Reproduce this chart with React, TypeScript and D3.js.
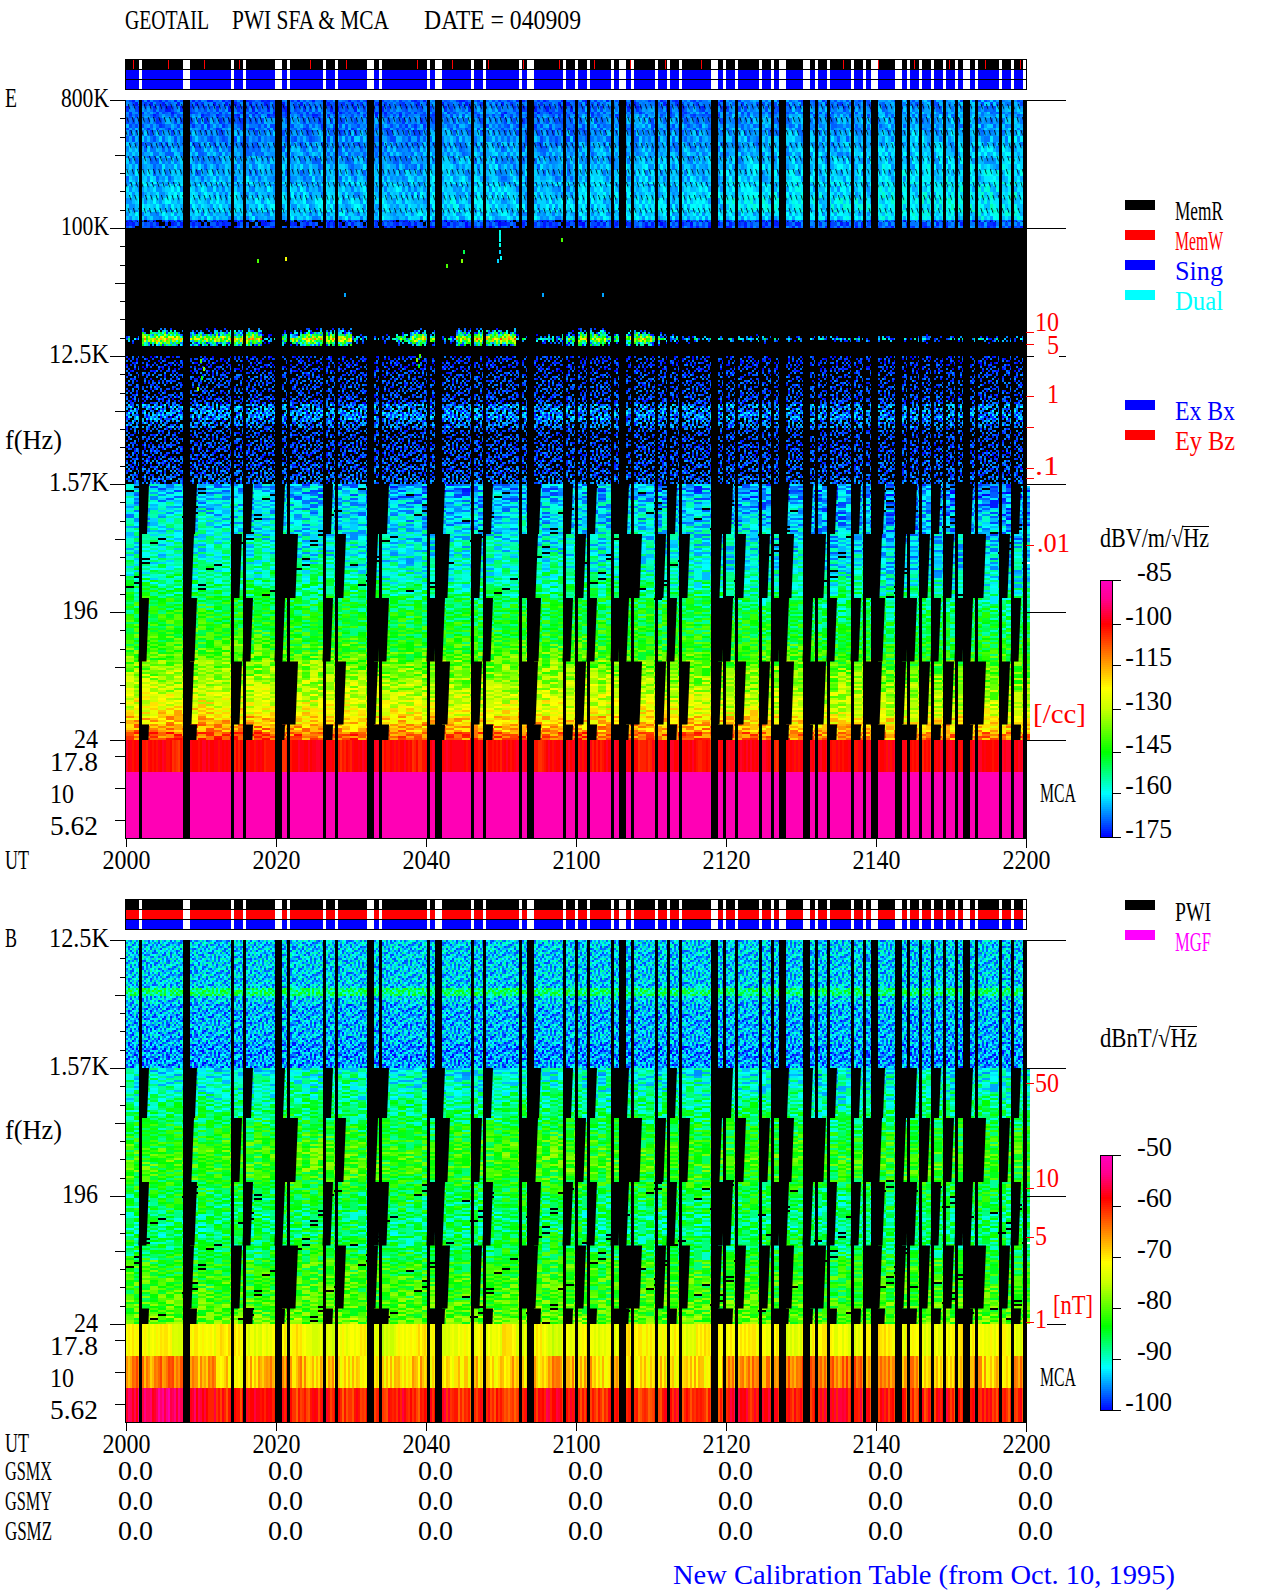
import { useEffect, useRef } from 'react';
import * as d3 from 'd3';

// data gaps, minutes after 2000 UT
const gapStart = [1.73, 7.6, 14, 15.6, 19.87, 21.47, 26.27, 27.87, 32.13, 33.73, 40.13, 41.2, 46, 47.6, 52.4, 53.47, 58.27, 59.87, 61.47, 64.67, 65.73, 67.33, 70.53, 72.13, 73.73, 78, 79.6, 81.2, 84.4, 86, 87.07, 90.27, 91.87, 93.47, 96.67, 98.27, 99.33, 102.53, 104.13, 105.73, 107.33, 108.93, 110.53, 111.6, 113.2, 116.4, 118, 119.6];
const gapEnd = [2.13, 8.53, 14.4, 16, 20.8, 21.87, 26.67, 28.27, 33.07, 34.13, 40.53, 42.13, 46.4, 48, 52.8, 54.4, 58.67, 60.27, 61.87, 65.07, 66.67, 67.73, 70.93, 72.53, 74.13, 78.93, 80, 81.6, 84.8, 86.4, 88, 91.2, 92.27, 93.87, 97.07, 98.67, 100.27, 103.47, 104.53, 106.13, 107.73, 109.33, 110.93, 112.53, 113.6, 116.8, 118.4, 120];
const memWrite = [0.97, 5.64, 10.44, 15.11, 24.57, 29.37, 38.84, 43.5, 48.3, 52.97, 57.77, 62.44, 67.24, 71.91, 76.71, 95.57, 100.24, 105.04, 109.71, 114.51, 119.17];

const timeTicks = [0, 20, 40, 60, 80, 100, 120];
const timeLabels = ['2000', '2020', '2040', '2100', '2120', '2140', '2200'];

// frequency axis stops, Hz
const eFreqs = [800000, 100000, 12500, 1570, 196, 24, 17.8, 10, 5.62, 4.05];
const bFreqs = [12500, 1570, 196, 24, 17.8, 10, 5.62, 4.05];
const sfaEdges = [1570, 697, 246, 87, 31, 24];
const mcaEdges = [24, 13.3, 7.5, 4.05];

// mean levels per 8px row, dB
const eTopDb = [-170, -169, -168, -168, -167, -167, -166, -166, -165, -165, -164, -164, -163, -163, -164, -172];
const eMidDb = [-178, -178, -177, -177, -177, -176, -170, -169, -172, -177, -177, -176, -176, -175, -175, -174];
const eLowDb = [-165, -164, -163, -162, -162, -161, -160, -159, -159, -158, -157, -156, -154, -152, -150, -149, -148, -147, -146, -145, -143, -141, -138, -136, -134, -132, -130, -128, -125, -120, -116, -110];
const bTopDb = [-93, -93, -93, -93, -93, -93, -87, -93, -94, -94, -94, -94, -94, -95, -95, -95];
const bLowDb = [-91, -90, -90, -89, -88, -87, -86, -85, -84, -83, -82, -82, -82, -83, -84, -85, -86, -86, -87, -87, -87, -86, -86, -85, -83, -83, -82, -82, -82, -81, -81, -80];

// slow drift per 10 minutes, dB
const eTopDrift = [0, 0, 0, 0, 1, 0, 1, 1, 2, 2, 3, 3];
const eLowDrift = [2, 2, 1, 0, 0, 1, 1, 0, -1, -2, -3, -3];
const bLowDrift = [0, 0, 1, 0, 0, 1, 0, 0, 0, -1, 0, 0];

// the emission line near 17 kHz, per 2 minutes, dB
const lineDb = [-168, -128, -122, -130, -135, -132, -130, -126, -124, -165, -145, -135, -125, -128, -125, -162, -170, -168, -150, -128, -138, -165, -128, -125, -124, -122, -165, -165, -162, -145, -128, -130, -150, -132, -130, -155, -165, -168, -170, -168, -170, -172, -168, -170, -172, -170, -168, -172, -170, -170, -168, -172, -170, -168, -170, -172, -170, -168, -170, -170];

// MCA channels per 2 minutes, dB
const eMca0 = [-100, -101, -100, -104, -100, -99, -100, -103, -100, -101, -104, -100, -99, -100, -102, -100, -99, -101, -100, -103, -100, -99, -100, -100, -102, -100, -99, -103, -100, -99, -100, -102, -99, -100, -103, -100, -99, -100, -102, -100, -99, -100, -99, -103, -100, -99, -99, -101, -100, -99, -100, -99, -100, -102, -99, -100, -99, -100, -99, -99];
const eMca1 = [-87];
const bMca0 = [-71, -72, -70, -73, -71, -72, -70, -71, -73, -72, -71, -70, -73, -74, -72, -71, -73, -74, -72, -70, -71, -73, -72, -71, -72, -70, -73, -71, -74, -72, -71, -73, -72, -70, -71, -72, -71, -73, -70, -72, -71, -70, -72, -71, -73, -71, -70, -72, -73, -71, -70, -72, -71, -73, -72, -70, -71, -72, -71, -73];
const bMca1 = [-65, -66, -64, -65, -67, -66, -69, -70, -69, -66, -65, -67, -69, -68, -70, -69, -71, -70, -69, -68, -70, -71, -70, -69, -70, -68, -70, -69, -66, -67, -68, -70, -69, -68, -70, -69, -71, -69, -70, -68, -66, -65, -66, -67, -65, -64, -66, -65, -64, -66, -65, -67, -66, -68, -69, -68, -66, -69, -68, -66];
const bMca2 = [-56, -55, -54, -55, -57, -58, -60, -60, -59, -58, -60, -61, -60, -59, -61, -60, -61, -60, -59, -61, -60, -59, -61, -60, -60, -61, -59, -60, -58, -59, -60, -61, -60, -59, -61, -60, -59, -60, -61, -60, -58, -59, -58, -59, -60, -59, -58, -58, -59, -60, -59, -60, -61, -60, -59, -60, -59, -60, -61, -60];

// isolated bright points in the dark band: minute, Hz, dB
const speckMinute = [49.7, 49.7, 49.7, 49.7, 49.7, 49.7, 49.9, 49.5, 44.6, 44.9, 21.2, 17.4, 42.7, 9.8, 10.2, 10, 9.4, 38.6, 38.9, 39.1, 58, 63.5, 55.5, 29, 87];
const speckFreq = [97000, 93000, 89000, 85000, 78000, 70000, 64000, 60000, 60000, 70000, 62000, 60000, 56000, 12000, 10500, 9000, 7600, 12200, 11000, 13000, 85000, 35000, 35000, 35000, 36000];
const speckDb = [-158, -160, -158, -160, -158, -162, -160, -162, -135, -150, -125, -140, -140, -140, -135, -145, -135, -135, -145, -140, -140, -165, -165, -165, -165];

// density and field scales on the right edge
const eDensity = [10, 5, 1, 0.5, 0.1, 0.07, 0.01];
const bField = [50, 10, 5, 1];

// Texture only: a hand-typed noise sample repeated across each band to give the
// speckle. It is not a per-pixel reading of the picture. '#' is a dropped cell.
const textureTile = [
  '731952840627184905362718',
  '264817#90524761038492516',
  '958036247183950462718394',
  '402769518340627#95836047',
  '617384025961483702594183',
  '8405927631085296740#3867',
  '375160948275036918427592',
  '92674#013596182407365021',
  '183527496073845162970438',
  '569401872634#07358124706',
  '714293685021763840596231',
  '0386751298472105967#3154',
  '492816057368491273605879',
  '6507#4291085326947018362',
  '287159643702658#13492745',
  '341068725916074589261903',
];

const SERIF = '"Liberation Serif", serif';
const colorT = d3
  .scaleLinear<string>()
  .domain([0, 0.17, 0.33, 0.5, 0.58, 0.67, 0.83, 0.93, 1])
  .range(['#0000ff', '#00ffff', '#00ff00', '#c8ff00', '#ffff00', '#ffa500', '#ff0000', '#ff0090', '#ff00c0'])
  .clamp(true);

const mod = (a: number, n: number) => ((a % n) + n) % n;

const texture = (row: number, col: number, shear: number, hold = 1) => {
  const r = mod(Math.floor(row / hold) + 5 * Math.floor(col / 24) + 3 * Math.floor(col / 7), 16);
  const c = mod(col + Math.floor(shear * row), 24);
  const ch = textureTile[r][c];
  return ch === '#' ? NaN : (+ch - 4.5) / 4.5;
};

type Cells = Map<string, string>;

const addCell = (cells: Cells, x: number, y: number, w: number, h: number, t: number) => {
  const color = colorT(Math.round(t * 64) / 64);
  const prev = cells.get(color) || '';
  cells.set(color, `${prev}M${x.toFixed(1)} ${y.toFixed(1)}h${w.toFixed(1)}v${h}h${(-w).toFixed(1)}z`);
};

const xScale = d3.scaleLinear().domain([0, 120]).range([126, 1026]);
const minutesOf = (step: number) => d3.range(0, 120, step);
const inGap = (m: number) => gapStart.some((s, i) => m >= s && m < gapEnd[i]);

const App = () => {
  const svgRef = useRef<SVGSVGElement>(null);

  useEffect(() => {
    const svg = d3.select(svgRef.current);
    svg.selectAll('*').remove();

    const label = (text: string, x: number, y: number, fill = '#000', w = text.length * 12, size = 27) =>
      svg
        .append('text')
        .attr('x', x)
        .attr('y', y)
        .attr('font-family', SERIF)
        .attr('font-size', size)
        .attr('fill', fill)
        .attr('textLength', w)
        .attr('lengthAdjust', 'spacingAndGlyphs')
        .text(text);

    const rule = (x1: number, x2: number, y1: number, y2: number, stroke = '#000') =>
      svg
        .append('line')
        .attr('x1', x1)
        .attr('x2', x2)
        .attr('y1', y1)
        .attr('y2', y2)
        .attr('stroke', stroke)
        .attr('shape-rendering', 'crispEdges');

    const bar = (x: number, y: number, w: number, h: number, fill: string) =>
      svg
        .append('rect')
        .attr('x', x)
        .attr('y', y)
        .attr('width', w)
        .attr('height', h)
        .attr('fill', fill)
        .attr('shape-rendering', 'crispEdges');

    // a band of rows, one level per 8px row, broken up by the texture sample
    const paintBand = (
      cells: Cells,
      toT: d3.ScaleLinear<number, number>,
      yTop: number,
      yBot: number,
      levels: number[],
      drift: number[] | null,
      o: { colPx: number; rowPx: number; amp: number; shear?: number; hold?: number; dropFrom?: number; dropTo?: number },
    ) => {
      const bandY = d3.scaleBand<number>().domain(d3.range(levels.length)).range([yTop, yBot]);
      levels.forEach((db, li) => {
        d3.range(0, bandY.bandwidth(), o.rowPx).forEach((off) => {
          const y = (bandY(li) as number) + off;
          const row = Math.round((y - yTop) / o.rowPx);
          minutesOf(o.colPx / 7.5).forEach((m, col) => {
            let dev = texture(row, col, o.shear || 0, o.hold || 1);
            if (Number.isNaN(dev)) {
              if (o.dropFrom !== undefined && y >= o.dropFrom && y < (o.dropTo as number)) return;
              dev = 0;
            }
            const v = db + (drift ? drift[Math.floor(m / 10)] : 0) + dev * o.amp;
            const t = toT(v);
            if (t < 0) return;
            addCell(cells, xScale(m), y, o.colPx, o.rowPx, t);
          });
        });
      });
    };

    const paintMca = (
      cells: Cells,
      toT: d3.ScaleLinear<number, number>,
      yTop: number,
      yBot: number,
      series: number[],
      amp: number,
      seed: number,
    ) => {
      minutesOf(2 / 7.5).forEach((m, col) => {
        const base = series[Math.min(series.length - 1, Math.floor(m / 2))];
        const dev = texture(seed, col, 0) || 0;
        addCell(cells, xScale(m), yTop, 2, yBot - yTop, toT(base + dev * amp));
      });
    };

    const flush = (cells: Cells) => {
      cells.forEach((d, color) => {
        svg.append('path').attr('d', d).attr('fill', color).attr('shape-rendering', 'crispEdges');
      });
    };

    const drawGaps = (yTop: number, yBot: number, yScale: d3.ScaleLogarithmic<number, number>, clipId: string) => {
      gapStart.forEach((s, i) => bar(xScale(s), yTop, xScale(gapEnd[i]) - xScale(s), yBot - yTop, '#000'));
      // the slow low-frequency sweeps lose a whole step when their sample falls in a gap
      const step = 1.0667;
      sfaEdges.slice(0, -1).forEach((fHi, seg) => {
        const top = yScale(fHi);
        const bot = yScale(sfaEdges[seg + 1]);
        const drift = (bot - top) * 0.04;
        const phase = seg % 2 === 0 ? 2.0 : 1.6;
        d3.range(0, 113).forEach((k) => {
          const start = phase + k * step;
          if (!inGap(start - 0.067)) return;
          const xL = xScale(start);
          const xR = xScale(start + step);
          svg
            .append('path')
            .attr('d', `M${xL} ${top}L${xR} ${top}L${xR - drift} ${bot}L${xL - drift} ${bot}Z`)
            .attr('fill', '#000')
            .attr('clip-path', `url(#${clipId})`);
        });
      });
    };

    const drawFreqAxis = (
      yScale: d3.ScaleLogarithmic<number, number>,
      majors: number[],
      names: string[],
      mcaNames: string[],
      longRight: number[],
    ) => {
      majors.forEach((f, i) => {
        rule(110, 126, yScale(f) + 0.5, yScale(f) + 0.5);
        label(names[i], 109 - names[i].length * 12 + (f < 1000 ? -11 : 0), yScale(f) + (f === 24 ? 8 : 7));
        if (i < majors.length - 1) {
          d3.range(1, 7).forEach((k) => {
            const f2 = f * Math.pow(majors[i + 1] / f, k / 7);
            rule(k === 3 ? 115 : 120, 126, yScale(f2) + 0.5, yScale(f2) + 0.5);
          });
        }
      });
      [17.8, 10, 5.62].forEach((f, i) => {
        rule(115, 126, yScale(f) + 0.5, yScale(f) + 0.5);
        label(mcaNames[i], 50, yScale(f) + 15, '#000', mcaNames[i].length * 12);
      });
      longRight.forEach((f) => rule(1026, 1066, yScale(f) + 0.5, yScale(f) + 0.5));
    };

    const drawTimeAxis = (y: number, tickLen: number) => {
      const axis = d3
        .axisBottom(xScale)
        .tickValues(timeTicks)
        .tickSize(tickLen)
        .tickFormat((_d, i) => timeLabels[i]);
      const g = svg.append('g').attr('transform', `translate(0,${y})`).call(axis);
      g.select('.domain').remove();
      g.selectAll('.tick line').attr('stroke', '#000').attr('shape-rendering', 'crispEdges');
      g.selectAll('.tick text')
        .attr('y', 31)
        .attr('dy', 0)
        .attr('fill', '#000')
        .attr('font-family', SERIF)
        .attr('font-size', 27)
        .attr('textLength', 48)
        .attr('lengthAdjust', 'spacingAndGlyphs');
    };

    const drawColorBar = (yTop: number, yBot: number, ticks: number[], names: string[]) => {
      const n = 128;
      const yT = d3.scaleLinear().domain([0, 1]).range([yBot, yTop]);
      d3.range(n).forEach((i) => {
        bar(1100, yT((i + 1) / n), 12, yT(i / n) - yT((i + 1) / n) + 0.5, colorT((i + 0.5) / n));
      });
      svg
        .append('rect')
        .attr('x', 1100.5)
        .attr('y', yTop + 0.5)
        .attr('width', 11.5)
        .attr('height', yBot - yTop)
        .attr('fill', 'none')
        .attr('stroke', '#000')
        .attr('shape-rendering', 'crispEdges');
      ticks.forEach((t, i) => {
        rule(1112, 1121, yT(t) + 0.5, yT(t) + 0.5);
        label(names[i], 1172 - names[i].length * 11.7, yT(t) + 1, '#000', names[i].length * 11.7);
      });
    };

    const drawStatus = (yTop: number, colors: string[]) => {
      colors.forEach((c, i) => bar(126, yTop + i * 10, 900, 10, c));
      gapStart.forEach((s, i) => bar(xScale(s), yTop, xScale(gapEnd[i]) - xScale(s), 30, '#fff'));
      rule(125, 1026, yTop + 10.5, yTop + 10.5);
      rule(125, 1026, yTop + 20.5, yTop + 20.5);
      svg
        .append('rect')
        .attr('x', 125.5)
        .attr('y', yTop + 0.5)
        .attr('width', 901)
        .attr('height', 30)
        .attr('fill', 'none')
        .attr('stroke', '#000')
        .attr('shape-rendering', 'crispEdges');
    };

    svg.append('defs').html(
      `<clipPath id="clipE"><rect x="126" y="100" width="900" height="738"/></clipPath>
       <clipPath id="clipB"><rect x="126" y="940" width="900" height="482"/></clipPath>
       <pattern id="dash" width="5.33" height="13" patternUnits="userSpaceOnUse" patternTransform="skewX(17)">
         <rect width="1" height="5" fill="#000" fill-opacity="0.8"/></pattern>`,
    );

    // ---- titles
    label('GEOTAIL', 125, 29, '#000', 84);
    label('PWI SFA & MCA', 232, 29, '#000', 157);
    label('DATE = 040909', 424, 29, '#000', 157);

    // ---- E panel
    const yE = d3.scaleLog().domain(eFreqs).range([100, 228, 356, 484, 612, 740, 756, 788, 820, 838]);
    const yB = d3.scaleLog().domain(bFreqs).range([940, 1068, 1196, 1324, 1340, 1372, 1404, 1422]);
    const tE = d3.scaleLinear().domain([-175, -85]).range([0, 1]);
    const tB = d3.scaleLinear().domain([-100, -50]).range([0, 1]);

    drawStatus(59, ['#000', '#0000ff', '#0000ff']);
    memWrite.forEach((m) => rule(xScale(m) + 0.5, xScale(m) + 0.5, 60, 69, '#ff0000'));
    bar(126, 100, 900, 738, '#000');

    const eCells: Cells = new Map();
    paintBand(eCells, tE, yE(800000), yE(100000), eTopDb, eTopDrift, { colPx: 3, rowPx: 2, amp: 4, shear: -0.35, hold: 7 });
    paintBand(eCells, tE, yE(12500), yE(1570), eMidDb, null, { colPx: 2, rowPx: 2, amp: 10 });
    paintBand(eCells, tE, yE(1570), yE(24), eLowDb, eLowDrift, { colPx: 8, rowPx: 2, amp: 8, shear: 5, dropFrom: 484, dropTo: 600 });
    paintMca(eCells, tE, yE(mcaEdges[0]), yE(mcaEdges[1]), eMca0, 2, 2);
    paintMca(eCells, tE, yE(mcaEdges[1]), yE(mcaEdges[3]), eMca1, 0, 4);

    // emission line: each cell falls off with distance from the line centre
    const lineY = 338;
    d3.range(-12, 8, 2).forEach((dy) => {
      minutesOf(2 / 7.5).forEach((m, col) => {
        const db = lineDb[Math.floor(m / 2)];
        const dev = texture(dy + 12, col, 3) || 0;
        const t = tE(db - Math.abs(dy) * 6 + dev * 18);
        if (t >= 0) addCell(eCells, xScale(m), lineY + dy, 2, 2, t);
      });
    });
    speckMinute.forEach((m, i) => addCell(eCells, xScale(m), yE(speckFreq[i]), 2, 4, tE(speckDb[i])));
    flush(eCells);
    bar(126, 100, 900, 122, 'url(#dash)');

    drawGaps(100, 838, yE, 'clipE');
    drawFreqAxis(
      yE,
      [800000, 100000, 12500, 1570, 196, 24],
      ['800K', '100K', '12.5K', '1.57K', '196', '24'],
      ['17.8', '10', '5.62'],
      [800000, 100000, 1570, 196, 24],
    );
    rule(1026, 1034, 356.5, 356.5);
    rule(1059, 1066, 356.5, 356.5);
    rule(125.5, 125.5, 100, 838);
    rule(1026.5, 1026.5, 100, 848);
    rule(125, 1026, 838.5, 838.5);
    drawTimeAxis(838, 9);

    label('E', 5, 107);
    label('f(Hz)', 5, 449, '#000', 57);
    label('UT', 5, 869, '#000', 24);
    label('MCA', 1040, 802, '#000', 36);

    // density scale
    const yDensity = d3.scaleLog().domain(eDensity).range([332, 344, 396, 427, 468, 478, 545]);
    eDensity.forEach((d) => rule(1026, 1034, yDensity(d) + 0.5, yDensity(d) + 0.5, '#ff0000'));
    label('10', 1035, 331, '#ff0000');
    label('5', 1047, 354, '#ff0000');
    label('1', 1047, 403, '#ff0000');
    label('.1', 1035, 475, '#ff0000');
    label('.01', 1037, 552, '#ff0000', 33);
    label('[/cc]', 1033, 723, '#ff0000', 53);

    // legends
    const legendE = [
      ['MemR', '#000000'],
      ['MemW', '#ff0000'],
      ['Sing', '#0000ff'],
      ['Dual', '#00ffff'],
    ];
    legendE.forEach(([name, c], i) => {
      bar(1125, 200 + i * 30, 30, 10, c);
      label(name, 1175, 220 + i * 30, c, 48);
    });
    [
      ['Ex Bx', '#0000ff'],
      ['Ey Bz', '#ff0000'],
    ].forEach(([name, c], i) => {
      bar(1125, 400 + i * 30, 30, 10, c);
      label(name, 1175, 420 + i * 30, c, 60);
    });

    label('dBV/m/√Hz', 1100, 547, '#000', 109);
    rule(1182, 1209, 526.5, 526.5);
    drawColorBar(580, 837, [1, 0.83, 0.67, 0.5, 0.33, 0.17, 0], ['-85', '-100', '-115', '-130', '-145', '-160', '-175']);

    // ---- B panel
    drawStatus(899, ['#000', '#ff0000', '#0000ff']);
    bar(126, 940, 900, 482, '#000');
    const bCells: Cells = new Map();
    paintBand(bCells, tB, yB(12500), yB(1570), bTopDb, null, { colPx: 2, rowPx: 2, amp: 5 });
    paintBand(bCells, tB, yB(1570), yB(24), bLowDb, bLowDrift, { colPx: 8, rowPx: 2, amp: 4.5, shear: 5, dropFrom: 1180, dropTo: 1324 });
    paintMca(bCells, tB, yB(mcaEdges[0]), yB(mcaEdges[1]), bMca0, 1.5, 1);
    paintMca(bCells, tB, yB(mcaEdges[1]), yB(mcaEdges[2]), bMca1, 3, 3);
    paintMca(bCells, tB, yB(mcaEdges[2]), yB(mcaEdges[3]), bMca2, 2.5, 6);
    flush(bCells);

    drawGaps(940, 1422, yB, 'clipB');
    drawFreqAxis(yB, [12500, 1570, 196, 24], ['12.5K', '1.57K', '196', '24'], ['17.8', '10', '5.62'], [12500, 1570, 196]);
    rule(1047, 1066, 1324.5, 1324.5);
    rule(125.5, 125.5, 940, 1422);
    rule(1026.5, 1026.5, 940, 1432);
    rule(125, 1026, 1422.5, 1422.5);
    drawTimeAxis(1422, 9);

    label('B', 5, 947);
    label('f(Hz)', 5, 1139, '#000', 57);
    label('UT', 5, 1452, '#000', 24);
    label('MCA', 1040, 1386, '#000', 36);

    const yField = d3.scaleLog().domain(bField).range([1083, 1188, 1237, 1322]);
    bField.forEach((d) => rule(1026, 1034, yField(d) + 0.5, yField(d) + 0.5, '#ff0000'));
    label('50', 1035, 1092, '#ff0000');
    label('10', 1035, 1187, '#ff0000');
    label('5', 1035, 1245, '#ff0000');
    label('1', 1035, 1328, '#ff0000');
    label('[nT]', 1053, 1314, '#ff0000', 40);

    [
      ['PWI', '#000000'],
      ['MGF', '#ff00ff'],
    ].forEach(([name, c], i) => {
      bar(1125, 900 + i * 30, 30, 10, c);
      label(name, 1175, 921 + i * 30, c, 36);
    });

    label('dBnT/√Hz', 1100, 1047, '#000', 97);
    rule(1170, 1197, 1026.5, 1026.5);
    drawColorBar(1155, 1410, [1, 0.8, 0.6, 0.4, 0.2, 0], ['-50', '-60', '-70', '-80', '-90', '-100']);

    // ---- orbit table
    ['GSMX', 'GSMY', 'GSMZ'].forEach((name, i) => {
      label(name, 5, 1480 + i * 30, '#000', 47);
      timeTicks.forEach((m) => label('0.0', xScale(m) - 8, 1480 + i * 30, '#000', 35));
    });

    label('New Calibration Table (from Oct. 10, 1995)', 673, 1584, '#0000ff', 502);
  }, []);

  return (
    <svg
      ref={svgRef}
      width={1280}
      height={1593}
      style={{ position: 'absolute', left: 0, top: 0, background: '#fff' }}
    />
  );
};

export default App;
